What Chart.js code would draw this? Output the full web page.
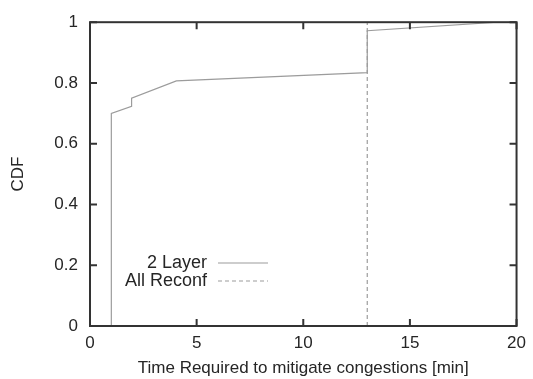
<!DOCTYPE html>
<html>
<head>
<meta charset="utf-8">
<script src="https://cdn.jsdelivr.net/npm/chart.js@4"></script>
<style>
  body { margin: 0; background: #fff; }
  #wrap { width: 533px; height: 379px; }
</style>
</head>
<body>
<div id="wrap"><canvas id="myChart" width="533" height="379"></canvas></div>
<script>
// datos
const layer2X = [1, 1, 1.95, 1.95, 4.05, 13, 13, 19.1, 20];
const layer2Y = [0, 0.70, 0.723, 0.75, 0.807, 0.834, 0.972, 1.0, 1.0];
const reconfX = [13, 13, 20];
const reconfY = [0, 1, 1];
const xTicks = [0, 5, 10, 15, 20];
const yTicks = [0, 0.2, 0.4, 0.6, 0.8, 1];
const seriesNames = ['2 Layer', 'All Reconf'];

const FONT = 'Liberation Sans, Arial, sans-serif';
const LINE_GREY = '#9c9c9c';
const TEXT = '#262626';

function toPoints(xs, ys) {
  return xs.map((x, i) => ({ x: x, y: ys[i] }));
}

// marco con ticks hacia dentro + leyenda estilo gnuplot
const framePlugin = {
  id: 'frame',
  afterDatasetsDraw(chart) {
    const { ctx, chartArea: a, scales } = chart;
    ctx.save();
    ctx.strokeStyle = '#333';
    ctx.lineWidth = 2;
    ctx.strokeRect(a.left, a.top, a.right - a.left, a.bottom - a.top);
    ctx.beginPath();
    xTicks.forEach(v => {
      const px = scales.x.getPixelForValue(v);
      ctx.moveTo(px, a.bottom); ctx.lineTo(px, a.bottom - 7);
      ctx.moveTo(px, a.top); ctx.lineTo(px, a.top + 7);
    });
    yTicks.forEach(v => {
      const py = scales.y.getPixelForValue(v);
      ctx.moveTo(a.left, py); ctx.lineTo(a.left + 7, py);
      ctx.moveTo(a.right, py); ctx.lineTo(a.right - 7, py);
    });
    ctx.stroke();

    // leyenda
    ctx.font = '18px ' + FONT;
    ctx.fillStyle = TEXT;
    ctx.textAlign = 'right';
    ctx.textBaseline = 'middle';
    const rows = [263, 281];
    chart.data.datasets.forEach((ds, i) => {
      ctx.fillText(seriesNames[i], 207, rows[i]);
      ctx.strokeStyle = ds.borderColor;
      ctx.lineWidth = 1.2;
      ctx.setLineDash(ds.borderDash || []);
      ctx.beginPath();
      ctx.moveTo(218, rows[i]);
      ctx.lineTo(268, rows[i]);
      ctx.stroke();
    });
    ctx.restore();
  }
};

const ctx = document.getElementById('myChart');
const myChart = new Chart(ctx, {
  type: 'line',
  data: {
    datasets: [
      { label: seriesNames[0], data: toPoints(layer2X, layer2Y),
        borderColor: LINE_GREY, borderWidth: 1.2, pointRadius: 0, tension: 0 },
      { label: seriesNames[1], data: toPoints(reconfX, reconfY),
        borderColor: LINE_GREY, borderWidth: 1.2, borderDash: [4, 3], pointRadius: 0, tension: 0 }
    ]
  },
  options: {
    responsive: false,
    animation: false,
    layout: { padding: { top: 18, right: 14, left: 0, bottom: 0 } },
    plugins: { legend: { display: false }, tooltip: { enabled: false } },
    scales: {
      x: {
        type: 'linear', min: 0, max: 20,
        grid: { display: false, drawTicks: false }, border: { display: false },
        afterBuildTicks: s => { s.ticks = xTicks.map(v => ({ value: v })); },
        afterFit: s => { s.height = 53; },
        ticks: { padding: 7, color: TEXT, font: { family: FONT, size: 17 }, maxRotation: 0 },
        title: { display: true, text: 'Time Required to mitigate congestions [min]',
                 color: TEXT, font: { family: FONT, size: 17 }, padding: { top: 1, bottom: 0 } }
      },
      y: {
        min: 0, max: 1,
        grid: { display: false, drawTicks: false }, border: { display: false },
        afterBuildTicks: s => { s.ticks = yTicks.map(v => ({ value: v })); },
        afterFit: s => { s.width = 90; },
        ticks: { padding: 12, color: TEXT, font: { family: FONT, size: 17 },
                 callback: v => String(+v.toFixed(1)) },
        title: { display: true, text: 'CDF', color: TEXT,
                 font: { family: FONT, size: 17 }, padding: { top: 8, bottom: 0 } }
      }
    }
  },
  plugins: [framePlugin]
});
</script>
</body>
</html>
